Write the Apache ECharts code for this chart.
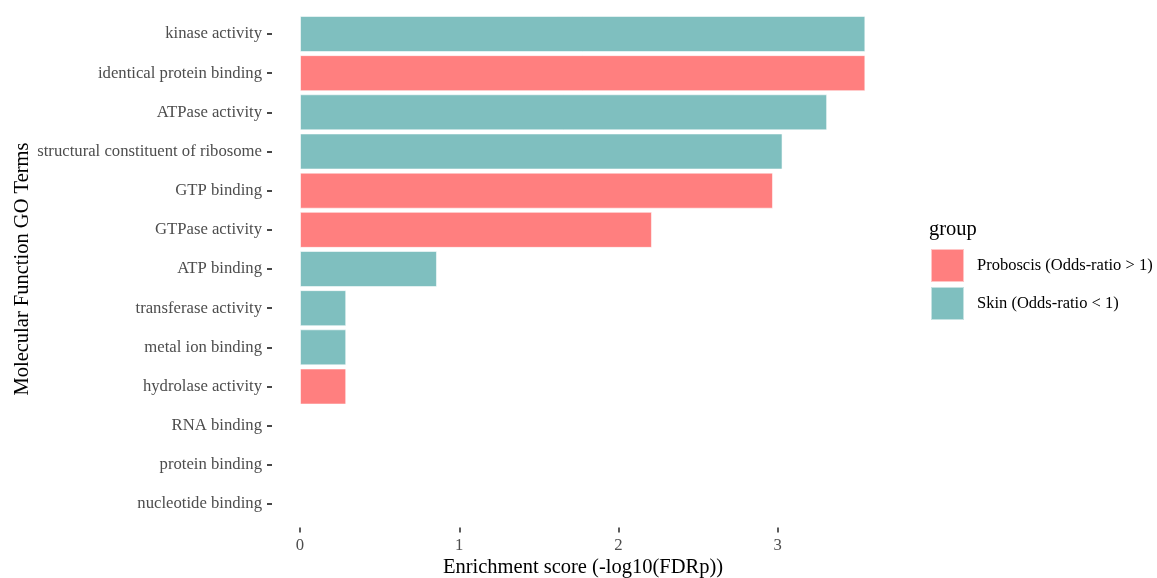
<!DOCTYPE html>
<html>
<head>
<meta charset="utf-8">
<title>Molecular Function GO Terms enrichment</title>
<script src="https://cdn.jsdelivr.net/npm/echarts@6/dist/echarts.min.js"></script>
<style>
  html, body { margin: 0; padding: 0; background: #fff; }
  #chart { width: 1157px; height: 578px; }
</style>
</head>
<body>
<div id="chart"></div>
<script>
// GO terms, listed top to bottom
const terms = [
  'kinase activity',
  'identical protein binding',
  'ATPase activity',
  'structural constituent of ribosome',
  'GTP binding',
  'GTPase activity',
  'ATP binding',
  'transferase activity',
  'metal ion binding',
  'hydrolase activity',
  'RNA binding',
  'protein binding',
  'nucleotide binding'
];

// Enrichment score, -log10(FDR p)
const scores = [3.55, 3.55, 3.31, 3.03, 2.97, 2.21, 0.86, 0.29, 0.29, 0.29, 0, 0, 0];

// Group of each term
const groups = ['Skin', 'Proboscis', 'Skin', 'Skin', 'Proboscis', 'Proboscis', 'Skin',
                'Skin', 'Skin', 'Proboscis', 'Skin', 'Skin', 'Skin'];

const groupKeys = ['Proboscis', 'Skin'];
const groupNames = ['Proboscis (Odds-ratio > 1)', 'Skin (Odds-ratio < 1)'];
const groupColors = ['#FF7F7F', '#7FBFBF'];

const xTicks = [0, 1, 2, 3];

const serif = '"Liberation Serif", "Times New Roman", serif';

const series = groupKeys.map((key, gi) => ({
  name: groupNames[gi],
  type: 'bar',
  stack: 'score',
  barWidth: '92%',
  itemStyle: {
    color: groupColors[gi],
    borderColor: 'rgba(255,255,255,0.55)',
    borderWidth: 1
  },
  emphasis: { disabled: true },
  data: scores.map((v, i) => (groups[i] === key ? v : null))
}));

const chart = echarts.init(document.getElementById('chart'), null, { renderer: 'canvas' });

chart.setOption({
  backgroundColor: '#ffffff',
  animation: false,
  title: {
    text: 'group',
    left: 929,
    top: 219,
    padding: 0,
    textStyle: { fontFamily: serif, fontSize: 20.5, fontWeight: 'normal', color: '#000' }
  },
  legend: {
    orient: 'vertical',
    left: 930,
    top: 248,
    padding: 0,
    itemWidth: 33,
    itemHeight: 33,
    itemGap: 3,
    icon: 'rect',
    selectedMode: false,
    data: groupNames,
    textStyle: { fontFamily: serif, fontSize: 16.5, color: '#000', padding: [0, 0, 0, 8] }
  },
  grid: {
    left: 272,
    right: 263,
    top: 14.4,
    bottom: 54.4,
    containLabel: false,
    outerBoundsMode: 'none'
  },
  xAxis: {
    type: 'value',
    min: -0.176,
    max: 3.73,
    offset: 4,
    name: 'Enrichment score (-log10(FDRp))',
    nameLocation: 'middle',
    nameGap: 30,
    nameMoveOverlap: false,
    nameTextStyle: { fontFamily: serif, fontSize: 20.5, color: '#000' },
    axisLine: { show: false, onZero: false },
    splitLine: { show: false },
    axisTick: {
      show: true,
      length: 5,
      customValues: xTicks,
      lineStyle: { color: '#333', width: 1.6 }
    },
    axisLabel: {
      customValues: xTicks,
      margin: 10,
      fontFamily: serif,
      fontSize: 16.7,
      color: '#4d4d4d'
    }
  },
  yAxis: {
    type: 'category',
    inverse: true,
    data: terms,
    name: 'Molecular Function GO Terms',
    nameLocation: 'middle',
    nameRotate: 90,
    nameGap: 239,
    nameMoveOverlap: false,
    nameTextStyle: { fontFamily: serif, fontSize: 20.5, color: '#000' },
    axisLine: { show: false, onZero: false },
    splitLine: { show: false },
    axisTick: {
      show: true,
      alignWithLabel: true,
      length: 5,
      lineStyle: { color: '#333', width: 1.8 }
    },
    axisLabel: {
      margin: 10,
      padding: [5, 0, 0, 0],
      fontFamily: serif,
      fontSize: 16.7,
      color: '#4d4d4d'
    }
  },
  series: series
});
</script>
</body>
</html>
